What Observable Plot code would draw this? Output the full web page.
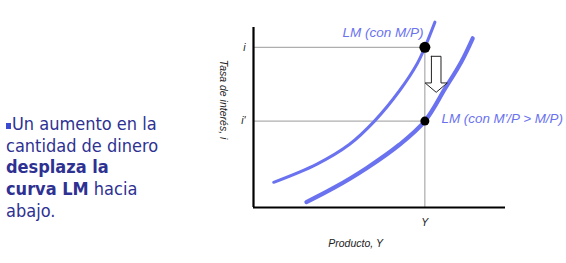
<!DOCTYPE html>
<html>
<head>
<meta charset="utf-8">
<script src="https://cdn.jsdelivr.net/npm/d3@7"></script>
<script src="https://cdn.jsdelivr.net/npm/@observablehq/plot@0.6"></script>
<style>
  html, body { margin: 0; padding: 0; background: #fff; }
  #wrap { display: flex; width: 566px; height: 263px; }
  #side { width: 200px; flex: none; box-sizing: border-box; padding: 113px 0 0 6px;
          font-family: "DejaVu Sans Condensed", "DejaVu Sans", sans-serif; font-size: 18px;
          line-height: 21.7px; color: #2e3192; }
  #side b { font-weight: bold; }
  #side .bul { display: inline-block; width: 5px; height: 6px; background: #3a4bd0; margin-right: 1px; vertical-align: 1px; }
  #chart svg { display: block; }
</style>
</head>
<body>
<div id="wrap">
  <div id="side"><span class="bul"></span>Un aumento en la<br>cantidad de dinero<br><b>desplaza la<br>curva LM</b> hacia<br>abajo.</div>
  <div id="chart"></div>
</div>
<script>
// Curve LM (con M/P)
const lm1X = [8, 25, 38, 48, 58, 65, 68, 72];
const lm1Y = [14, 24, 35, 48, 65, 80, 89, 103];
// Curve LM (con M'/P > M/P)
const lm2X = [21, 32, 45, 58, 68, 76, 82.5, 87];
const lm2Y = [3, 11, 22, 35, 48, 66, 81, 94];
// Equilibrium values
const Yval = 68;
const iVal = 89;
const iPrime = 48;
// Tick labels
const yTickValues = [iVal, iPrime];
const yTickLabels = ["i", "i'"];
const xTickValues = [Yval];
const xTickLabels = ["Y"];
// Curve labels
const curveLabels = ["LM (con M/P)", "LM (con M'/P > M/P)"];
// Arrow (downward shift), in data units
const arrowX = 72.5, arrowTop = 84, arrowTip = 64;

const lm1 = lm1X.map((x, k) => ({x, y: lm1Y[k]}));
const lm2 = lm2X.map((x, k) => ({x, y: lm2Y[k]}));

// hollow arrow polygon derived from arrow parameters
const sw = 1.9, hw = 4.4, hh = 5.2;
const arrowPoly = [
  [arrowX - sw, arrowTop], [arrowX + sw, arrowTop], [arrowX + sw, arrowTip + hh],
  [arrowX + hw, arrowTip + hh], [arrowX, arrowTip], [arrowX - hw, arrowTip + hh],
  [arrowX - sw, arrowTip + hh], [arrowX - sw, arrowTop]
].map(([x, y]) => ({x, y}));

const blue = "#6a72f0";
const plot = Plot.plot({
  width: 366,
  height: 263,
  marginLeft: 53,
  marginRight: 61,
  marginTop: 27,
  marginBottom: 56,
  x: {domain: [0, 100], axis: null},
  y: {domain: [0, 100], axis: null},
  style: {fontFamily: "Liberation Sans, Arial, sans-serif", overflow: "visible"},
  marks: [
    // guide lines
    Plot.ruleY([iVal, iPrime], {x1: 0, x2: Yval, stroke: "#9a9a9a", strokeWidth: 1}),
    Plot.ruleX([Yval], {y1: 0, y2: iVal, stroke: "#9a9a9a", strokeWidth: 1}),
    // axes
    Plot.ruleX([0], {y1: 0, y2: 100, stroke: "#000", strokeWidth: 2.2}),
    Plot.ruleY([0], {x1: 0, x2: 100, stroke: "#000", strokeWidth: 2.2}),
    // curves
    Plot.line(lm1, {x: "x", y: "y", curve: "catmull-rom", stroke: blue, strokeWidth: 3, strokeLinecap: "round", clip: false}),
    Plot.line(lm2, {x: "x", y: "y", curve: "catmull-rom", stroke: blue, strokeWidth: 4.2, strokeLinecap: "round", clip: false}),
    // arrow
    Plot.line(arrowPoly, {x: "x", y: "y", fill: "#fff", stroke: "#222", strokeWidth: 1, curve: "linear-closed"}),
    // points
    Plot.dot([{x: Yval, y: iVal}], {x: "x", y: "y", r: 5.5, fill: "#000"}),
    Plot.dot([{x: Yval, y: iPrime}], {x: "x", y: "y", r: 4.5, fill: "#000"}),
    // tick labels
    Plot.text(yTickValues, {x: 0, y: d => d, text: (d, k) => yTickLabels[k], dx: -8, textAnchor: "end", fontStyle: "italic", fontSize: 10.5, fill: "#222"}),
    Plot.text(xTickValues, {x: d => d, y: 0, text: (d, k) => xTickLabels[k], dy: 15, fontStyle: "italic", fontSize: 10.5, fill: "#222"}),
    // axis titles
    Plot.text(["Producto, Y"], {x: 40.5, y: 0, dy: 36, fontStyle: "italic", fontSize: 10.5, fill: "#222"}),
    Plot.text(["Tasa de interés, i"], {x: 0, y: 60, dx: -30, rotate: 90, fontStyle: "italic", fontSize: 10.5, fill: "#222"}),
    // curve labels
    Plot.text([curveLabels[0]], {x: 67.5, y: 97, textAnchor: "end", fontStyle: "italic", fontSize: 13.5, fill: blue}),
    Plot.text([curveLabels[1]], {x: 74.6, y: 49.5, textAnchor: "start", fontStyle: "italic", fontSize: 13.4, fill: blue})
  ]
});
document.getElementById("chart").appendChild(plot);
</script>
</body>
</html>
